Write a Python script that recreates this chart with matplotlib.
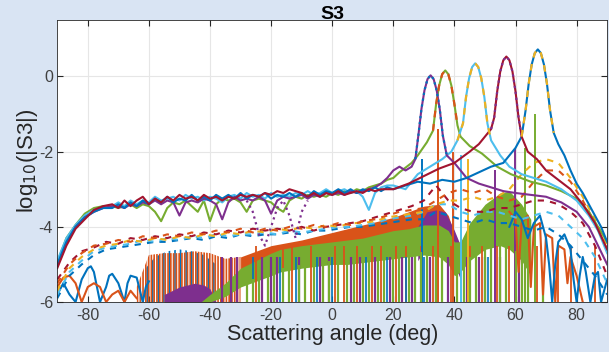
import numpy as np
import matplotlib.pyplot as plt

plt.rcParams['hatch.linewidth'] = 1.2
plt.rcParams['axes.unicode_minus'] = False

# MATLAB default line colours
C_BLUE = '#0072BD'
C_ORANGE = '#D95319'
C_YELLOW = '#EDB120'
C_PURPLE = '#7E2F8E'
C_GREEN = '#77AC30'
C_CYAN = '#4DBEEE'
C_RED = '#A2142F'

# ---- upper solid curves (one per beam angle) ----
bg_x = [-90, -87, -84, -81, -78, -75, -72, -70, -68, -66, -64, -62, -60, -58, -56, -54, -52,
        -50, -48, -46, -44, -42, -40, -38, -36, -34, -32, -30, -28, -26, -24, -22, -20, -18,
        -16, -14, -12, -10, -8, -6, -4, -2, 0, 2, 4, 6, 8, 10, 12, 14, 16, 18]

blue_bg = [-5.0, -4.4, -4.0, -3.75, -3.6, -3.5, -3.5, -3.4, -3.5, -3.35, -3.45, -3.3, -3.4,
           -3.25, -3.35, -3.2, -3.35, -3.25, -3.3, -3.15, -3.3, -3.2, -3.3, -3.15, -3.25, -3.15,
           -3.25, -3.1, -3.25, -3.15, -3.2, -3.1, -3.25, -3.15, -3.2, -3.1, -3.2, -3.1, -3.2,
           -3.05, -3.15, -3.05, -3.1, -3.0, -3.1, -3.0, -3.1, -3.0, -3.05, -2.95, -3.05, -2.95]
red_bg = [-5.1, -4.5, -4.05, -3.8, -3.55, -3.45, -3.4, -3.5, -3.3, -3.45, -3.3, -3.2, -3.4,
          -3.25, -3.35, -3.2, -3.3, -3.15, -3.25, -3.2, -3.3, -3.15, -3.25, -3.2, -3.3, -3.2,
          -3.25, -3.15, -3.2, -3.15, -3.2, -3.1, -3.15, -3.05, -3.1, -3.0, -3.05, -3.1, -3.2,
          -3.1, -3.2, -3.1, -3.15, -3.05, -3.15, -3.1, -3.05, -3.1, -3.0, -3.05, -3.0, -3.0]
cyan_bg = [-4.9, -4.3, -3.95, -3.7, -3.55, -3.5, -3.45, -3.35, -3.45, -3.3, -3.4, -3.3, -3.35,
           -3.2, -3.3, -3.25, -3.2, -3.3, -3.15, -3.25, -3.2, -3.3, -3.2, -3.25, -3.35, -3.2,
           -3.15, -3.25, -3.1, -3.2, -3.15, -3.25, -3.1, -3.2, -3.15, -3.2, -3.1, -3.15, -3.05,
           -3.15, -3.1, -3.0, -3.1, -3.05, -3.0, -3.1, -3.05, -3.2, -3.55, -3.1, -2.95, -2.9]
green_bg = [-4.95, -4.3, -3.95, -3.65, -3.5, -3.45, -3.45, -3.5, -3.45, -3.4, -3.5, -3.4, -3.45,
            -3.6, -3.85, -3.5, -3.35, -3.4, -3.3, -3.45, -3.6, -3.3, -3.85, -3.4, -3.25, -3.3,
            -3.25, -3.35, -3.6, -3.3, -3.25, -3.3, -3.35, -3.5, -3.6, -3.3, -3.2, -3.25, -3.15,
            -3.2, -3.15, -3.2, -3.1, -3.15, -3.05, -3.1, -3.0, -3.05, -2.95, -2.9, -2.85, -2.75]
purple_bg = [-5.05, -4.45, -4.0, -3.75, -3.6, -3.5, -3.45, -3.45, -3.5, -3.4, -3.45, -3.35, -3.4,
             -3.3, -3.4, -3.3, -3.35, -3.7, -3.35, -3.3, -3.35, -3.25, -3.3, -3.4, -3.8, -3.35,
             -3.2, -3.3, -3.25, -3.3, -3.2, -3.3, -3.65, -3.3, -3.2, -3.25, -3.2, -3.15, -3.25,
             -3.15, -3.2, -3.1, -3.15, -3.1, -3.15, -3.05, -3.1, -3.05, -3.0, -2.95, -2.85, -2.7]

blue_pk_x = [20, 24, 28, 32, 36, 40, 44, 48, 52, 56, 58, 60, 62, 63.3, 64.3, 65.3, 66.3, 67.3,
             68.3, 69.3, 70.3, 71.3, 72.5, 74, 76, 78, 80, 82, 84, 86, 88, 90]
blue_pk_y = [-3.0, -2.9, -2.8, -2.85, -2.75, -2.8, -2.7, -2.55, -2.4, -2.3, -2.1, -1.9, -1.6,
             -0.9, -0.2, 0.32, 0.62, 0.72, 0.62, 0.32, -0.2, -0.9, -1.5, -1.8, -2.1, -2.5, -2.85,
             -3.1, -3.4, -3.7, -4.0, -4.4]
red_pk_x = [20, 25, 30, 35, 40, 45, 48, 50, 52, 53, 54, 55, 56, 57, 58, 59, 60, 61, 62, 64,
            67, 70, 74, 78, 82, 86, 90]
red_pk_y = [-3.0, -2.85, -2.65, -2.45, -2.3, -2.0, -1.8, -1.6, -1.4, -1.1, -0.4, 0.13, 0.43,
            0.53, 0.43, 0.13, -0.4, -1.1, -1.6, -2.0, -2.2, -2.5, -2.75, -3.0, -3.4, -3.9, -4.6]
cyan_pk_x = [20, 24, 28, 32, 36, 39, 41, 42.8, 43.8, 44.8, 45.8, 46.8, 47.8, 48.8, 49.8, 50.8,
             52, 55, 58, 62, 66, 70, 75, 80, 84, 87, 90]
cyan_pk_y = [-2.9, -3.0, -2.6, -2.4, -2.2, -2.0, -1.7, -1.25, -0.55, -0.05, 0.25, 0.35, 0.25,
             -0.05, -0.55, -1.25, -1.7, -2.1, -2.4, -2.6, -2.7, -2.8, -3.0, -3.3, -3.7, -4.1, -4.7]
purple_pk_x = [20, 22, 24, 26, 27.2, 28.2, 29.2, 30.2, 31.2, 32.2, 33.2, 34.2, 35.2, 36.2, 37.5,
               40, 44, 48, 52, 56, 60, 65, 70, 75, 80, 84, 87, 90]
purple_pk_y = [-2.5, -2.4, -2.5, -2.4, -2.2, -1.57, -0.87, -0.37, -0.07, 0.03, -0.07, -0.37,
               -0.87, -1.57, -2.1, -2.3, -2.7, -2.85, -2.95, -3.05, -3.1, -3.15, -3.2, -3.35,
               -3.6, -4.0, -4.5, -5.0]
green_pk_x = [20, 22, 26, 28, 31, 33, 34, 35, 36, 37, 38, 39, 40, 41, 42, 45, 49, 54, 58.5, 65,
              70, 75, 80, 84, 87, 90]
green_pk_y = [-2.7, -2.55, -2.3, -2.1, -1.75, -1.44, -0.74, -0.24, 0.06, 0.16, 0.06, -0.24,
              -0.74, -1.3, -1.6, -1.85, -2.05, -2.4, -2.6, -2.8, -2.9, -3.05, -3.25, -3.6, -4.0,
              -4.4]

# dotted trace with deep dips in the upper band
purple_dot_x = [-28, -26, -24, -22, -20, -18, -16, -14, -12, -10, -8]
purple_dot_y = [-3.3, -3.6, -4.2, -4.5, -4.0, -3.5, -3.3, -3.7, -4.3, -3.6, -3.3]

# ---- dashed curves (middle band) ----
dash_x = [-90, -86, -82, -78, -74, -70, -66, -62, -58, -54, -50, -46, -42, -38, -34, -30, -26,
          -22, -18, -14, -10, -6, -2, 2, 6, 10, 14, 18, 22, 26, 30, 34, 38, 42, 46, 50, 54, 58,
          62, 66, 70, 74, 78, 82, 86, 90]
orange_dash = [-5.5, -5.0, -4.7, -4.5, -4.45, -4.35, -4.4, -4.25, -4.3, -4.2, -4.25, -4.15,
               -4.2, -4.1, -4.15, -4.05, -4.15, -4.05, -4.1, -4.0, -4.05, -3.95, -4.0, -3.9,
               -3.95, -3.85, -3.8, -3.7, -3.6, -3.55, -3.5, -3.3, -3.1, -3.0, -3.1, -3.0, -3.2,
               -3.3, -3.2, -2.8, -2.5, -2.5, -2.8, -3.3, -3.9, -4.6]
yellow_dash = [-5.7, -5.1, -4.8, -4.6, -4.5, -4.45, -4.35, -4.4, -4.3, -4.35, -4.25, -4.3,
               -4.2, -4.25, -4.15, -4.2, -4.1, -4.15, -4.05, -4.1, -4.0, -4.05, -3.95, -4.0,
               -3.9, -3.9, -3.85, -3.75, -3.7, -3.65, -3.6, -3.4, -3.3, -3.3, -3.2, -3.3, -3.2,
               -3.0, -2.6, -2.3, -2.2, -2.3, -2.7, -3.2, -3.8, -4.5]
red_dash = [-5.4, -4.95, -4.65, -4.55, -4.4, -4.45, -4.3, -4.35, -4.25, -4.3, -4.2, -4.25,
            -4.15, -4.2, -4.1, -4.15, -4.05, -4.1, -4.05, -4.1, -4.0, -4.1, -4.0, -3.95, -3.9,
            -3.85, -3.75, -3.65, -3.55, -3.45, -3.3, -2.9, -3.3, -3.5, -3.6, -3.6, -3.5, -3.5,
            -3.4, -3.3, -3.3, -3.4, -3.6, -3.9, -4.5, -5.3]
cyan_dash = [-5.8, -5.2, -4.9, -4.65, -4.55, -4.5, -4.45, -4.35, -4.4, -4.3, -4.35, -4.25,
             -4.3, -4.2, -4.25, -4.2, -4.2, -4.15, -4.2, -4.1, -4.15, -4.1, -4.05, -4.0, -4.0,
             -3.95, -3.9, -3.8, -3.75, -3.7, -3.6, -3.4, -3.4, -3.6, -3.7, -3.6, -3.6, -3.7,
             -3.8, -3.7, -3.6, -3.7, -4.0, -4.3, -4.8, -5.5]
blue_dash = [-5.9, -5.3, -5.0, -4.75, -4.6, -4.55, -4.5, -4.45, -4.4, -4.4, -4.35, -4.3,
             -4.35, -4.25, -4.3, -4.2, -4.25, -4.2, -4.2, -4.15, -4.2, -4.1, -4.1, -4.05, -4.0,
             -4.0, -3.95, -3.9, -3.85, -3.8, -3.8, -3.6, -3.7, -3.8, -3.9, -3.8, -3.9, -3.9,
             -4.0, -4.1, -4.0, -4.2, -4.5, -4.9, -5.3, -5.8]

# ---- dense oscillating responses: upper envelope, solid-core bottom, nulls ----
green_band_x = [-43, -40, -35, -30, -25, -20, -17, -10, -5, 0, 5, 10, 15, 20, 25, 30, 35, 38,
                40, 42, 45, 50, 55, 58, 62, 65]
green_band_top = [-6.0, -5.8, -5.5, -5.1, -4.9, -4.7, -4.6, -4.5, -4.45, -4.4, -4.35, -4.3,
                  -4.2, -4.1, -4.05, -3.95, -3.95, -4.1, -4.4, -4.4, -3.9, -3.4, -3.1, -3.05,
                  -3.4, -3.8]
green_band_core = [-6.0, -6.0, -5.85, -5.6, -5.45, -5.3, -5.2, -5.1, -5.05, -5.0, -5.0, -4.95,
                   -4.9, -4.85, -4.8, -4.75, -4.8, -5.0, -5.3, -5.2, -4.9, -4.6, -4.5, -4.6,
                   -4.9, -5.3]
green_nulls = [-28, -26, -24, -21, -19, -16, -14, -11, -9, -6, -3, -1, 2, 5, 7, 10, 12, 15, 17,
               20, 22, 25, 27, 29, 31, 34, 36, 41, 43, 45, 47, 50, 52, 55, 57, 60, 62, 64, 69]

orange_band_x = [-64, -60, -55, -50, -45, -40, -35, -30, -20, -10, 0, 10, 20, 30, 35, 38, 40]
orange_band_top = [-5.6, -4.75, -4.7, -4.7, -4.65, -4.7, -4.85, -4.8, -4.5, -4.35, -4.15,
                   -3.95, -3.75, -3.45, -3.4, -3.7, -4.2]
orange_nulls = [-25, -16, -13, -7, 1, 4, 8, 13, 16, 21, 24, 29, 33, 39, 45, 49, 54, 58, 63, 67,
                74, 78, 86]

blue_band_x = [-62, -58, -54, -50, -46, -42, -38]
blue_band_top = [-5.2, -4.8, -4.65, -4.6, -4.65, -4.75, -5.0]

purple_band_x = [-55, -50, -45, -42, -40, -38]
purple_band_top = [-5.8, -5.6, -5.5, -5.55, -5.65, -6.0]
purple_hi_x = [28, 31, 34, 37, 40, 42]
purple_hi_top = [-4.0, -3.6, -3.55, -3.6, -4.1, -4.5]
purple_nulls = [-36, -33, -31, -23, -20, -18, -11, -4, -1, 6, 9, 14, 19, 23, 26, 32, 34, 38,
                44, 48, 50, 55, 61]

blue_nulls = [-26, -17, -12, -5, 0, 11, 18, 24, 30, 51, 60]

# tall nulls reaching up to the main lobes
tall_x = [29.3, 34.5, 39.7, 42.0, 44.5, 53.3, 59.8, 63.0, 66.5]
tall_top = [-2.2, -1.4, -2.0, -2.1, -2.2, -2.5, -1.9, -1.9, -1.0]
tall_col = [C_BLUE, C_ORANGE, C_ORANGE, C_CYAN, C_YELLOW, C_PURPLE, C_PURPLE, C_GREEN, C_GREEN]

# left-hand sidelobes
blue_lobe_x = [-90, -88, -86, -84, -82, -80, -79, -78, -76, -74, -73, -72, -70, -68, -67, -66,
               -64, -62, -61, -60]
blue_lobe_y = [-5.8, -5.5, -5.8, -6.0, -5.4, -5.1, -5.05, -5.2, -6.0, -5.6, -5.3, -5.25, -5.5,
               -6.0, -5.5, -5.3, -5.35, -6.0, -5.6, -5.45]
orange_lobe_x = [-90, -88, -86, -84, -82, -80, -78, -76, -74, -72, -70, -68, -66, -64]
orange_lobe_y = [-5.6, -5.35, -5.3, -5.5, -6.0, -5.6, -5.5, -5.6, -6.0, -5.8, -5.7, -6.0,
                 -5.7, -5.9]

# right-hand lower lobes
blue_rlobe_x = [58, 60, 62, 64, 66, 68, 70, 71, 72, 73, 74, 76, 78, 79, 80, 81, 82, 83, 84.5,
                86, 87, 88, 90]
blue_rlobe_y = [-4.0, -3.6, -3.8, -4.3, -3.9, -3.7, -4.3, -5.0, -6.0, -5.0, -4.4, -4.2, -4.6,
                -5.4, -6.0, -5.3, -4.8, -5.2, -6.0, -5.3, -5.2, -6.0, -5.4]
orange_rlobe_x = [58, 60, 61, 62, 64, 65, 66, 68, 69, 70, 72, 73, 74, 76, 77, 78, 80, 82]
orange_rlobe_y = [-3.6, -3.8, -5.2, -3.9, -3.7, -5.6, -4.0, -3.9, -5.8, -4.2, -4.3, -6.0, -4.5,
                  -4.6, -5.5, -4.8, -5.3, -6.0]

fig = plt.figure(figsize=(6.09, 3.52), dpi=100, facecolor='#d9e4f3')
ax = fig.add_axes([0.094, 0.142, 0.903, 0.801])
ax.set_facecolor('white')

lw = 1.5

# dense responses
ax.fill_between(blue_band_x, -6, blue_band_top, facecolor='none', edgecolor=C_BLUE,
                hatch='|||', lw=0)
ax.fill_between(orange_band_x[:8], -6, orange_band_top[:8], facecolor='none',
                edgecolor=C_ORANGE, hatch='||||||', lw=0)
ax.fill_between(purple_band_x, -6, purple_band_top, color=C_PURPLE, lw=0)
ax.fill_between(orange_band_x[7:], np.array(orange_band_top[7:]) - 0.6, orange_band_top[7:],
                color=C_ORANGE, lw=0)
ax.fill_between(purple_hi_x, np.array(purple_hi_top) - 0.9, purple_hi_top, color=C_PURPLE, lw=0)
ax.vlines(orange_nulls, -6, -4.5, color=C_ORANGE, lw=1.3)
ax.vlines(purple_nulls, -6, -4.8, color=C_PURPLE, lw=1.6)
ax.vlines(blue_nulls, -6, -4.8, color=C_BLUE, lw=1.2)
ax.vlines(tall_x, -6, tall_top, colors=tall_col, lw=1.4)
ax.fill_between(green_band_x, green_band_core, green_band_top, color=C_GREEN, lw=0)
ax.vlines(green_nulls, -6, np.interp(green_nulls, green_band_x, green_band_core) + 0.1,
          color=C_GREEN, lw=1.6)

ax.plot(blue_lobe_x, blue_lobe_y, color=C_BLUE, lw=lw)
ax.plot(orange_lobe_x, orange_lobe_y, color=C_ORANGE, lw=lw)
ax.plot(orange_rlobe_x, orange_rlobe_y, color=C_ORANGE, lw=lw)
ax.plot(blue_rlobe_x, blue_rlobe_y, color=C_BLUE, lw=lw)

# dashed middle band
for yv, col in [(blue_dash, C_BLUE), (cyan_dash, C_CYAN), (red_dash, C_RED),
                (yellow_dash, C_YELLOW), (orange_dash, C_ORANGE)]:
    ax.plot(dash_x, yv, color=col, lw=lw, ls=(0, (3, 3)))

# solid upper curves with their main lobes
for bg, px, py, col in [(green_bg, green_pk_x, green_pk_y, C_GREEN),
                        (cyan_bg, cyan_pk_x, cyan_pk_y, C_CYAN),
                        (purple_bg, purple_pk_x, purple_pk_y, C_PURPLE),
                        (blue_bg, blue_pk_x, blue_pk_y, C_BLUE),
                        (red_bg, red_pk_x, red_pk_y, C_RED)]:
    ax.plot(bg_x + px, bg + py, color=col, lw=lw)
ax.plot(purple_dot_x, purple_dot_y, color=C_PURPLE, lw=1.6, ls=':')

# dotted / dashed overlays of the main lobes
ax.plot(purple_pk_x[4:15], purple_pk_y[4:15], color=C_BLUE, lw=1.6, ls=':')
ax.plot(green_pk_x[5:14], green_pk_y[5:14], color=C_ORANGE, lw=1.6, ls=(0, (3, 3)))
ax.plot(cyan_pk_x[6:17], cyan_pk_y[6:17], color=C_YELLOW, lw=1.6, ls=(0, (3, 3)))
ax.plot(red_pk_x[8:19], red_pk_y[8:19], color=C_PURPLE, lw=1.6, ls=':')
ax.plot(blue_pk_x[12:23], blue_pk_y[12:23], color=C_YELLOW, lw=1.6, ls=(0, (3, 3)))

ax.set_xlim(-90, 90)
ax.set_ylim(-6, 1.5)
ax.set_xticks([-80, -60, -40, -20, 0, 20, 40, 60, 80])
ax.set_yticks([-6, -4, -2, 0])
ax.grid(True, color='#e6e6e6', lw=0.8)
ax.set_axisbelow(True)
ax.tick_params(direction='in', top=True, right=True, length=4, color='#262626',
               labelsize=11.5, labelcolor='#404040')
ax.tick_params(axis='x', pad=4)
ax.tick_params(axis='y', pad=3)
for s in ax.spines.values():
    s.set_color('#262626')
    s.set_linewidth(0.6)
for lab in ax.get_xticklabels() + ax.get_yticklabels():
    lab.set_family('Liberation Sans')

ax.set_title('S3', fontsize=14, fontweight='bold', family='Liberation Sans', pad=1)
ax.set_xlabel('Scattering angle (deg)', fontsize=15.5, family='Liberation Sans',
              color='#262626', labelpad=1)
ax.set_ylabel('log$_{10}$(|S3|)', fontsize=16, family='Liberation Sans', color='#262626',
              labelpad=-1)

fig.savefig('out.png', dpi=100, facecolor=fig.get_facecolor())
